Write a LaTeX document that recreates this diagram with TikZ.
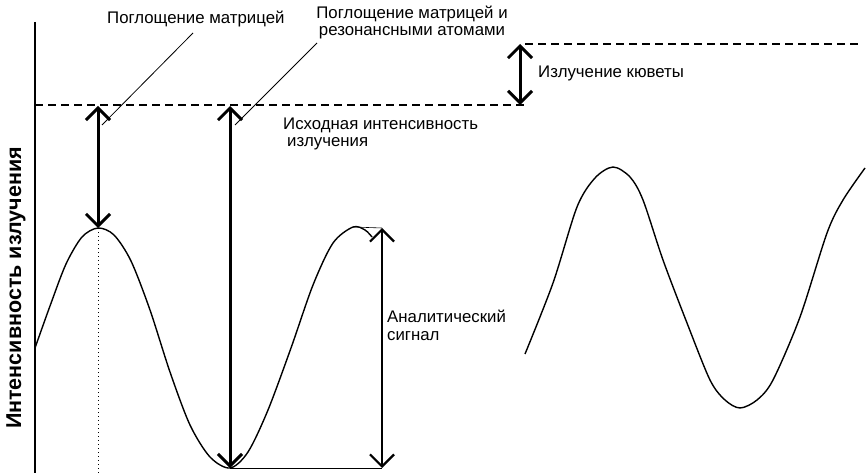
\documentclass[tikz,border=0pt]{standalone}
\usepackage{fontspec}
\setmainfont{Liberation Sans}
\usetikzlibrary{arrows.meta}
\tikzset{
lbl/.style={
inner sep=0pt,
anchor=base west,
align=left,
font=\fontsize{16.8}{17.5}\selectfont
},
dimarrow/.style={
{Straight Barb[length=12pt,width=24pt]}-{Straight Barb[length=12pt,width=24pt]},
line width=3pt
},
level/.style={
dash pattern=on 8pt off 5pt,
line width=2pt
},
leader/.style={
line width=0.8pt
},
wave/.style={
line width=1.4pt,
smooth
}
}

\begin{document}
\begin{tikzpicture}[x=1pt,y=-1pt]
\useasboundingbox (0,0) rectangle (867,473);

% axis and levels
\coordinate (axtop) at (35,22);
\coordinate (axbot) at (35,473);
\draw[line width=1.5pt](axtop)--(axbot);
\node[rotate=90,inner sep=0pt,font=\bfseries\fontsize{21.5}{24}\selectfont](ylab) at (16,288){Интенсивность излучения};

\coordinate (lvlA) at (35,105);
\coordinate (lvlB) at (525,105);
\coordinate (lvlC) at (525,44);
\coordinate (lvlD) at (862,44);
\draw[level](lvlA)--(lvlB);
\draw[level](lvlC)--(lvlD);

% signal curves
\draw[wave] plot coordinates {(35,348) (50,306) (66,264) (82,237) (98,228) (114,235) (131,261) (150,310) (170,372) (190,425) (210,457) (230,468) (248,452) (268,410) (291,348) (313,285) (333,243) (353,227) (365,230) (372,237)};
\draw[wave] plot coordinates {(525,354) (553,283) (577,207) (595,178) (613,167) (630,177) (643,200) (663,260) (687,323) (710,380) (725,400) (740,408) (757,400) (773,380) (800,317) (827,233) (843,200) (865,168)};

% measured points
\coordinate (top1) at (98,106);
\coordinate (peak1) at (98,228);
\coordinate (top2) at (230,106);
\coordinate (low2) at (230,468);
\coordinate (peak2) at (353,227);
\coordinate (top3) at (382,228);
\coordinate (low3) at (382,468);
\coordinate (kuvA) at (520,44);
\coordinate (kuvB) at (520,105);
\coordinate (foot1) at (98,473);

\draw[line width=0.8pt,dash pattern=on 1pt off 3pt](peak1)--(foot1);
\draw[line width=0.6pt](low2)--(low3);
\draw[line width=0.6pt](peak2)--(top3);

\foreach \x/\y in {top1/peak1,top2/low2,kuvA/kuvB}
\draw[dimarrow](\x)--(\y);
\draw[dimarrow,line width=2.2pt](top3)--(low3);

% labels
\node[lbl](matr) at (107,24){Поглощение матрицей};
\node[lbl,align=center,anchor=base](reson) at (412,36){Поглощение матрицей и\\резонансными атомами};
\node[lbl](ishod) at (283,147){Исходная интенсивность\\\hspace*{4pt}излучения};
\node[lbl](kuv) at (538,78){Излучение кюветы};
\node[lbl](anal) at (387,340){Аналитический\\сигнал};

\coordinate (lead1) at (193,33);
\coordinate (end1) at (102,125);
\coordinate (lead2) at (317,43);
\coordinate (end2) at (235,125);
\draw[leader](lead1)--(end1);
\draw[leader](lead2)--(end2);
\end{tikzpicture}
\end{document}
